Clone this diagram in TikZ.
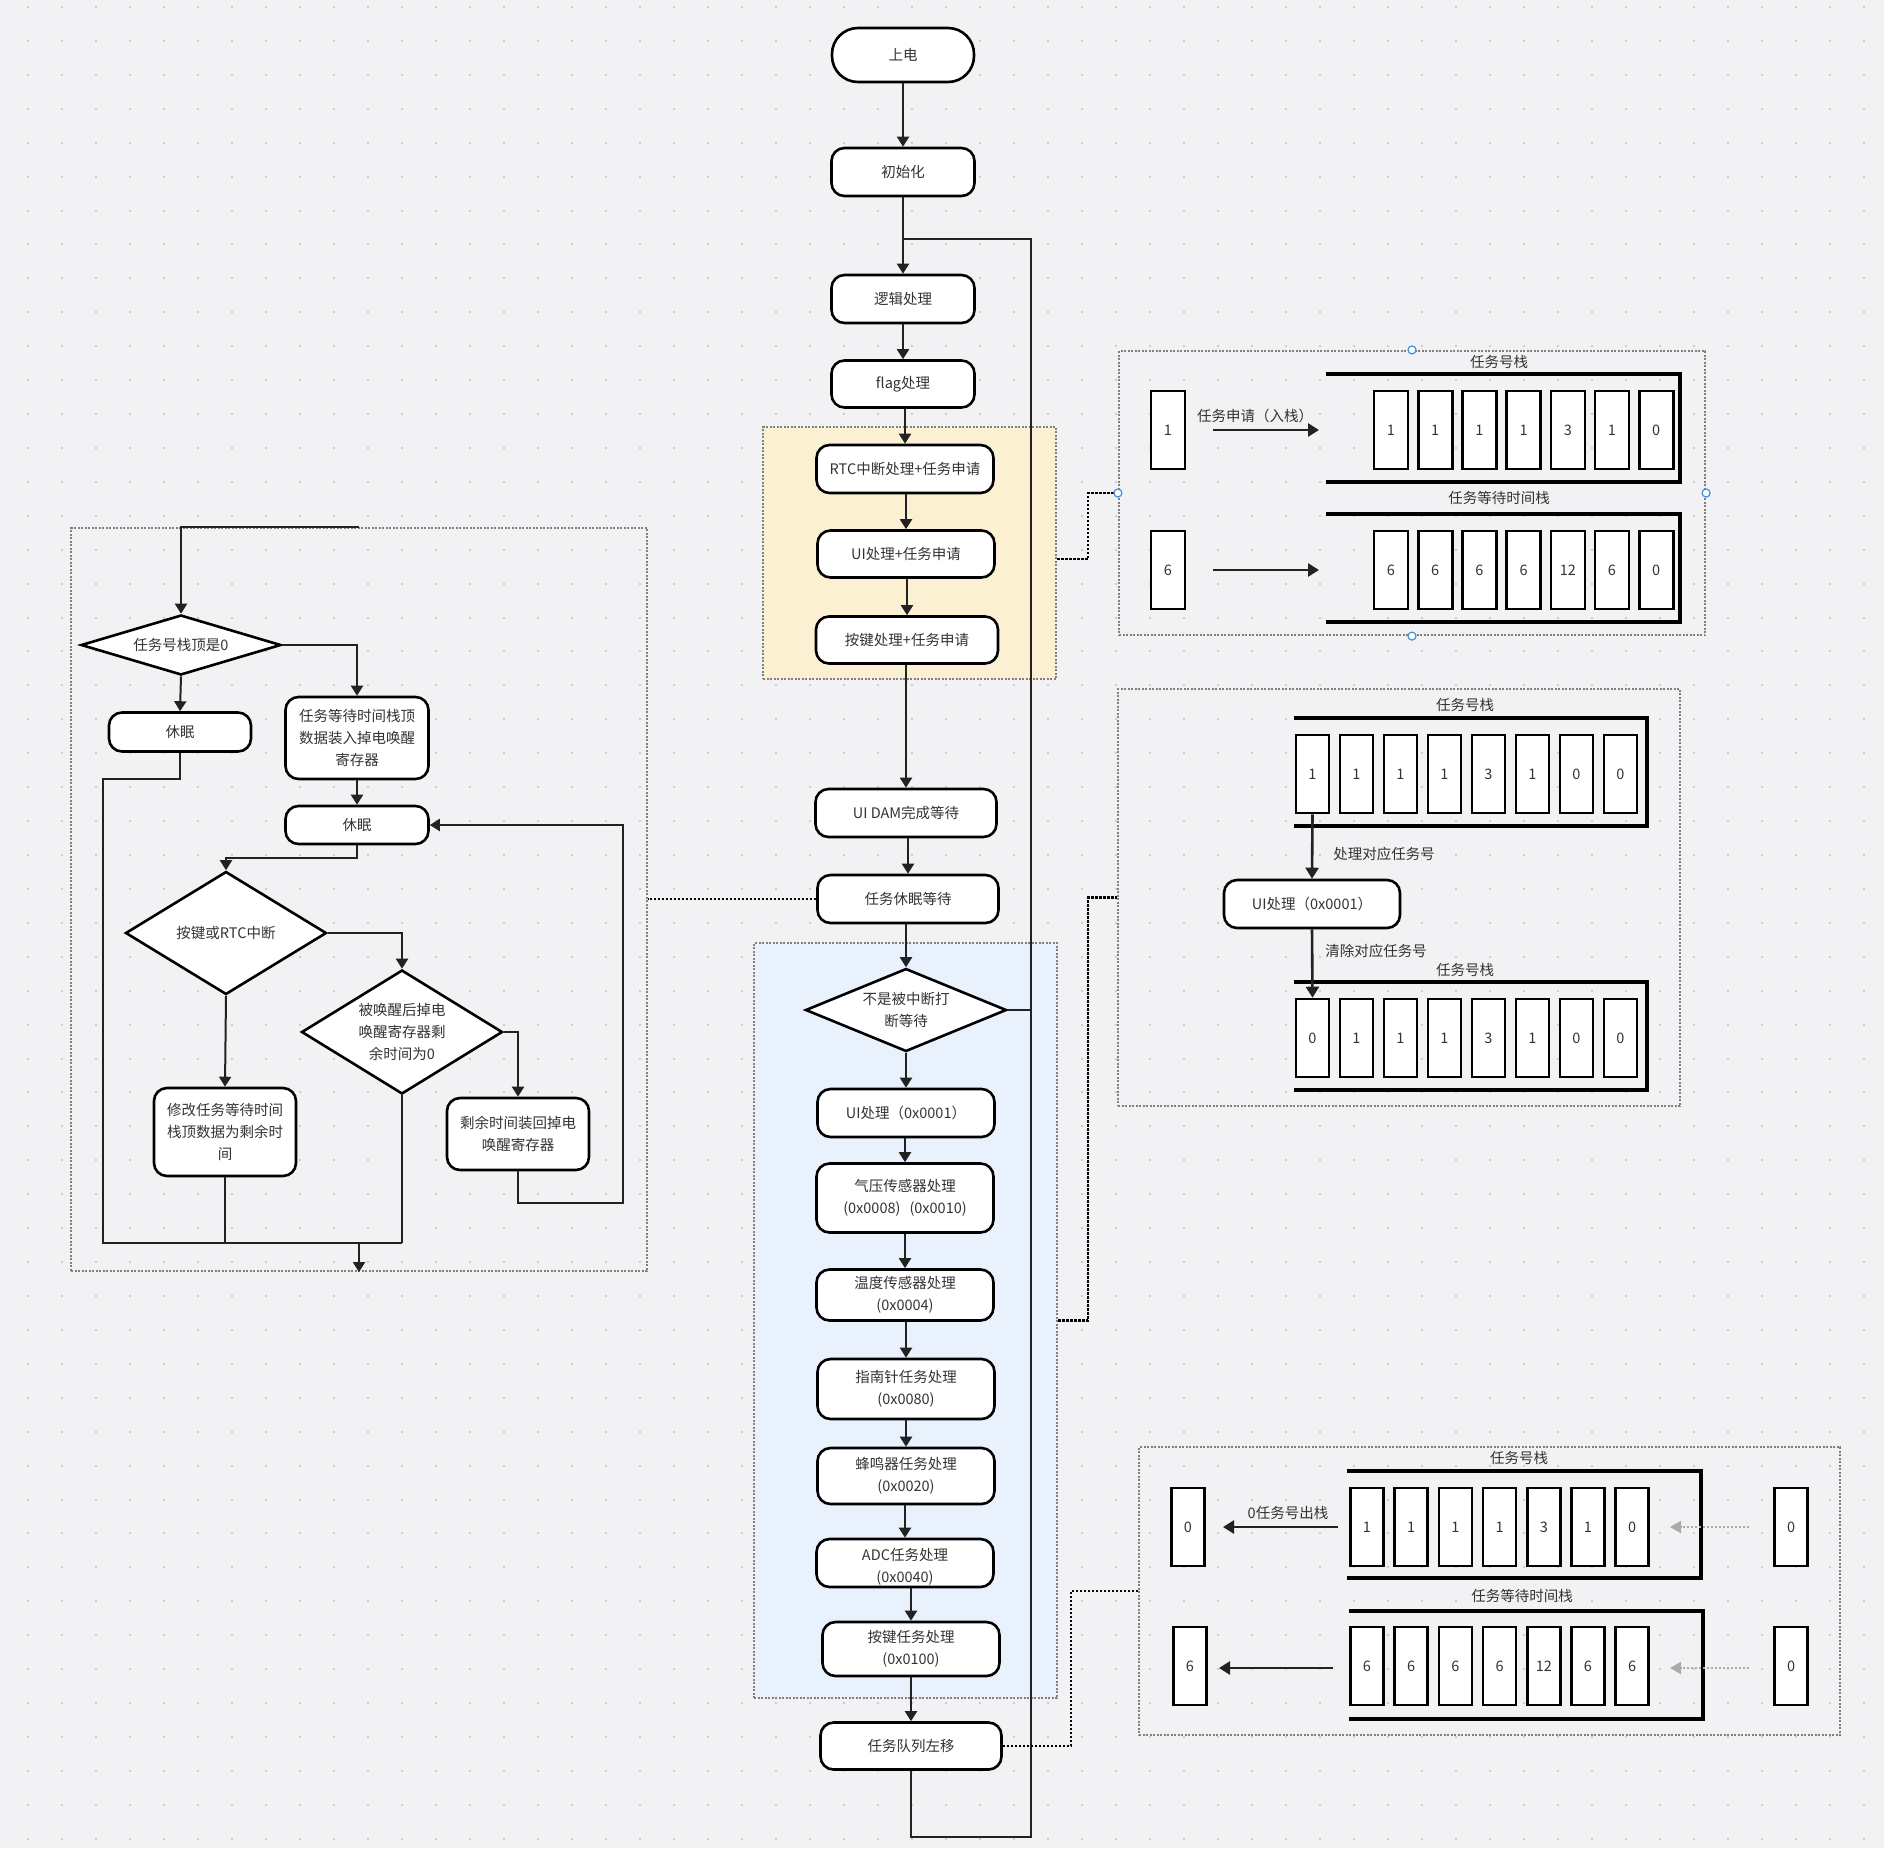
\documentclass[tikz,border=0pt]{standalone}
\usepackage{fontspec}
\setmainfont{Noto Sans CJK SC}
\usetikzlibrary{arrows.meta,shapes.geometric,calc}
\definecolor{bgc}{HTML}{F2F2F4}
\definecolor{dotg}{HTML}{CCCCCC}
\definecolor{linec}{HTML}{222222}
\definecolor{txtc}{HTML}{333333}
\definecolor{grpc}{HTML}{808080}
\definecolor{yelc}{HTML}{FCF0D2}
\definecolor{bluec}{HTML}{E8F1FC}
\definecolor{handc}{HTML}{3D8FE0}
\definecolor{grayarr}{HTML}{AAAAAA}
\newcommand{\mainfs}{\fontsize{14.5}{22}\selectfont}
\tikzset{
  ln/.style={draw=linec, line width=2pt},
  arr/.style={ln, -{Triangle[length=10pt,width=12pt]}},
  thickarr/.style={draw=linec, line width=2.6pt, -{Triangle[length=11pt,width=13pt]}},
  grayd/.style={draw=grayarr, line width=2pt, dash pattern=on 2pt off 2pt, -{Triangle[length=11pt,width=12pt]}, color=grayarr},
  proc/.style={draw=black, line width=2.6pt, fill=white, rounded corners=13pt, inner sep=0pt, align=center, text=txtc, font=\mainfs},
  stad/.style={proc, rounded corners=26pt},
  dec/.style={diamond, draw=black, line width=2.6pt, fill=white, inner sep=0pt},
  dtxt/.style={align=center, text=txtc, font=\mainfs},
  cell/.style={draw=black, line width=2.6pt, fill=white, minimum width=34pt, minimum height=78pt, inner sep=0pt, text=txtc, font=\mainfs},
  brk/.style={draw=black, line width=3.4pt},
  grp/.style={draw=grpc, line width=2.2pt, dash pattern=on 2pt off 1.5pt, inner sep=0pt},
  dcon/.style={draw=black, line width=2.4pt, dash pattern=on 2.4pt off 1.6pt},
  lbl/.style={text=txtc, font=\mainfs, inner sep=0pt},
  handle/.style={circle, draw=handc, fill=white, line width=1.2pt, minimum size=8pt, inner sep=0pt},
}
\begin{document}
\begin{tikzpicture}[x=1pt,y=-1pt]
\useasboundingbox (0,0) rectangle (1884,1848);
\fill[bgc] (0,0) rectangle (1884,1848);
\foreach \i in {0,...,54} {
  \foreach \j in {0,...,54} {
    \fill[dotg] ({27+34*\i},{6+33.92*\j}) rectangle ++(2,2);
  }
}

% ---------- group boxes ----------
\node[grp, fill=yelc, minimum width=293pt, minimum height=252pt] (Ybox) at (909.5,553) {};
\node[grp, fill=bluec, minimum width=303pt, minimum height=755pt] (Bbox) at (905.5,1320.5) {};
\node[grp, minimum width=576pt, minimum height=743pt] (Lbox) at (359,899.5) {};
\node[grp, minimum width=586pt, minimum height=284pt] (R1) at (1412,493) {};
\node[grp, minimum width=562pt, minimum height=417pt] (R2) at (1399,897.5) {};
\node[grp, minimum width=701pt, minimum height=288pt] (R3) at (1489.5,1591) {};

% ---------- main column ----------
\node[stad, minimum width=142pt, minimum height=54pt] (n_power) at (903,55) {上电};
\node[proc, minimum width=143pt, minimum height=48pt] (n_init) at (903,172) {初始化};
\node[proc, minimum width=143pt, minimum height=48pt] (n_logic) at (903,299) {逻辑处理};
\node[proc, minimum width=143pt, minimum height=47pt] (n_flag) at (903,384) {flag处理};
\node[proc, minimum width=177pt, minimum height=48pt] (n_rtc) at (905,469) {RTC中断处理+任务申请};
\node[proc, minimum width=177pt, minimum height=47pt] (n_ui) at (906,554) {UI处理+任务申请};
\node[proc, minimum width=182pt, minimum height=47pt] (n_key) at (907,640) {按键处理+任务申请};
\node[proc, minimum width=181pt, minimum height=48pt] (n_dam) at (906,813) {UI DAM完成等待};
\node[proc, minimum width=181pt, minimum height=48pt] (n_sleepw) at (908,899) {任务休眠等待};
\node[dec, minimum width=201pt, minimum height=83pt] (n_dia) at (906,1010) {};
\node[dtxt] at (n_dia) {不是被中断打\\断等待};
\node[proc, minimum width=177pt, minimum height=48pt] (n_uip) at (906,1113) {UI处理（0x0001）};
\node[proc, minimum width=177pt, minimum height=69pt] (n_press) at (905,1198) {气压传感器处理\\(0x0008)\hspace{9pt}(0x0010)};
\node[proc, minimum width=177pt, minimum height=51pt] (n_temp) at (905,1295) {温度传感器处理\\(0x0004)};
\node[proc, minimum width=177pt, minimum height=60pt] (n_comp) at (906,1389) {指南针任务处理\\(0x0080)};
\node[proc, minimum width=177pt, minimum height=56pt] (n_buzz) at (906,1476) {蜂鸣器任务处理\\(0x0020)};
\node[proc, minimum width=177pt, minimum height=48pt] (n_adc) at (905,1563) {};
\begin{scope}
  \clip[rounded corners=13pt] (817,1540) rectangle (993,1586);
  \node[dtxt] at (905,1567) {ADC任务处理\\(0x0040)};
\end{scope}
\node[proc, minimum width=177pt, minimum height=54pt] (n_keyt) at (911,1649) {按键任务处理\\(0x0100)};
\node[proc, minimum width=181pt, minimum height=47pt] (n_shift) at (911,1746) {任务队列左移};

\draw[arr] (n_power.south) -- (n_init.north);
\draw[arr] (n_init.south) -- (n_logic.north);
\foreach \a/\b in {n_logic/n_flag, n_flag/n_rtc, n_rtc/n_ui, n_ui/n_key, n_key/n_dam, n_dam/n_sleepw, n_sleepw/n_dia, n_dia/n_uip, n_uip/n_press, n_press/n_temp, n_temp/n_comp, n_comp/n_buzz, n_buzz/n_adc, n_adc/n_keyt, n_keyt/n_shift} {
  \draw[arr] (\b.north |- \a.south) -- (\b.north);
}
\coordinate (loopB) at (1031,1837);
\coordinate (loopT) at (903,239);
\draw[ln] (n_shift.south) |- (loopB) |- (loopT);
\draw[ln] (n_dia.east) -- (n_dia.east -| loopB);

% ---------- dotted connectors ----------
\draw[dcon] ([yshift=-6pt]Ybox.east) -- ++(31,0) |- (R1.west);
\draw[dcon] (Bbox.east) -- ++(30,0) |- (R2.west);
\draw[dcon] (n_shift.east) -- ++(68,0) |- (R3.west);
\draw[dcon] (n_sleepw.west) -- (n_sleepw.west -| Lbox.east);

% ---------- left flow ----------
\node[dec, minimum width=200pt, minimum height=60pt] (L_d1) at (181,645) {};
\node[dtxt] at (L_d1) {任务号栈顶是0};
\node[proc, minimum width=142pt, minimum height=39pt] (L_sleep1) at (180,732) {休眠};
\node[proc, minimum width=143pt, minimum height=82pt] (L_load) at (357,738) {任务等待时间栈顶\\数据装入掉电唤醒\\寄存器};
\node[proc, minimum width=143pt, minimum height=38pt] (L_sleep2) at (357,825) {休眠};
\node[dec, minimum width=201pt, minimum height=123pt] (L_d2) at (226,933) {};
\node[dtxt] at (L_d2) {按键或RTC中断};
\node[dec, minimum width=201pt, minimum height=124pt] (L_d3) at (402,1032) {};
\node[dtxt] at (L_d3) {被唤醒后掉电\\唤醒寄存器剩\\余时间为0};
\node[proc, minimum width=142pt, minimum height=88pt] (L_mod) at (225,1132) {修改任务等待时间\\栈顶数据为剩余时\\间};
\node[proc, minimum width=142pt, minimum height=72pt] (L_rest) at (518,1134) {剩余时间装回掉电\\唤醒寄存器};

\draw[arr] (Lbox.north) -| (L_d1.north);
\draw[arr] (L_d1.south) -- (L_sleep1.north);
\draw[arr] (L_d1.east) -| (L_load.north);
\draw[arr] (L_load.south) -- (L_sleep2.north);
\draw[arr] (L_sleep2.south) -- ++(0,13) -| (L_d2.north);
\draw[arr] (L_d2.south) -- (L_mod.north);
\draw[arr] (L_d2.east) -| (L_d3.north);
\draw[arr] (L_d3.east) -| (L_rest.north);
\coordinate (Lr1) at (623,1203);
\draw[arr] (L_rest.south) |- (Lr1) |- (L_sleep2.east);
\coordinate (Lb1) at (103,779);
\coordinate (Lb2) at (402,1243);
\draw[ln] (L_sleep1.south) |- (Lb1) |- (Lb2);
\draw[ln] (L_d3.south) -- (Lb2);
\draw[ln] (L_mod.south) -- (L_mod.south |- Lb2);
\draw[arr] (Lbox.south |- Lb2) -- (Lbox.south);

% ---------- R1 : push ----------
\node[handle] at (R1.north) {};
\node[handle] at (R1.south) {};
\node[handle] at (R1.west) {};
\node[handle] at (R1.east) {};
\node[lbl] (r1t1) at (1499,362) {任务号栈};
\draw[brk] (1326,374) -- (1680,374) -- (1680,482) -- (1326,482);
\foreach \v [count=\k from 0] in {1,1,1,1,3,1,0} {
  \node[cell] (r1a\k) at ({1391+44.2*\k},430) {\v};
}
\node[cell] (r1s1) at (1168,430) {1};
\coordinate (r1p1) at (1213,430);
\coordinate (r1q1) at (1319,430);
\draw[thickarr] (r1p1) -- (r1q1);
\node[lbl] at (1255,416) {任务申请（入栈）};
\node[lbl] (r1t2) at (1499,498) {任务等待时间栈};
\draw[brk] (1326,514) -- (1680,514) -- (1680,622) -- (1326,622);
\foreach \v [count=\k from 0] in {6,6,6,6,12,6,0} {
  \node[cell] (r1b\k) at ({1391+44.2*\k},570) {\v};
}
\node[cell] (r1s2) at (1168,570) {6};
\coordinate (r1p2) at (1213,570);
\coordinate (r1q2) at (1319,570);
\draw[thickarr] (r1p2) -- (r1q2);

% ---------- R2 : process ----------
\node[lbl] at (1465,705) {任务号栈};
\draw[brk] (1294,718) -- (1647,718) -- (1647,826) -- (1294,826);
\foreach \v [count=\k from 0] in {1,1,1,1,3,1,0,0} {
  \node[cell, minimum width=33pt] (r2a\k) at ({1312.5+44*\k},774) {\v};
}
\node[proc, minimum width=176pt, minimum height=48pt] (r2ui) at (1312,904) {UI处理（0x0001）};
\node[lbl] at (1465,970) {任务号栈};
\draw[brk] (1294,982) -- (1647,982) -- (1647,1090) -- (1294,1090);
\foreach \v [count=\k from 0] in {0,1,1,1,3,1,0,0} {
  \node[cell, minimum width=33pt] (r2b\k) at ({1312.5+44*\k},1038) {\v};
}
\draw[thickarr] (r2a0.south) -- (r2ui.north);
\draw[thickarr] (r2ui.south) -- (r2b0.north);
\node[lbl] at (1384,854) {处理对应任务号};
\node[lbl] at (1376,951) {清除对应任务号};

% ---------- R3 : pop ----------
\node[lbl] at (1519,1458) {任务号栈};
\draw[brk] (1347,1471) -- (1701,1471) -- (1701,1578) -- (1347,1578);
\foreach \v [count=\k from 0] in {1,1,1,1,3,1,0} {
  \node[cell, minimum width=33pt] (r3a\k) at ({1367+44.2*\k},1527) {\v};
}
\node[cell, minimum width=33pt] (r3l1) at (1188,1527) {0};
\node[cell, minimum width=33pt] (r3r1) at (1791,1527) {0};
\coordinate (r3p1) at (1338,1527);
\coordinate (r3q1) at (1223,1527);
\draw[thickarr] (r3p1) -- (r3q1);
\node[lbl] at (1288,1513) {0任务号出栈};
\coordinate (r3g1) at (1749,1527);
\coordinate (r3h1) at (1670,1527);
\draw[grayd] (r3g1) -- (r3h1);
\node[lbl] at (1522,1596) {任务等待时间栈};
\draw[brk] (1349,1611) -- (1703,1611) -- (1703,1719) -- (1349,1719);
\foreach \v [count=\k from 0] in {6,6,6,6,12,6,6} {
  \node[cell, minimum width=33pt] (r3b\k) at ({1367+44.2*\k},1666) {\v};
}
\node[cell, minimum width=33pt] (r3l2) at (1190,1666) {6};
\node[cell, minimum width=33pt] (r3r2) at (1791,1666) {0};
\coordinate (r3p2) at (1333,1668);
\coordinate (r3q2) at (1219,1668);
\draw[thickarr] (r3p2) -- (r3q2);
\coordinate (r3g2) at (1749,1668);
\coordinate (r3h2) at (1670,1668);
\draw[grayd] (r3g2) -- (r3h2);
\end{tikzpicture}
\end{document}
